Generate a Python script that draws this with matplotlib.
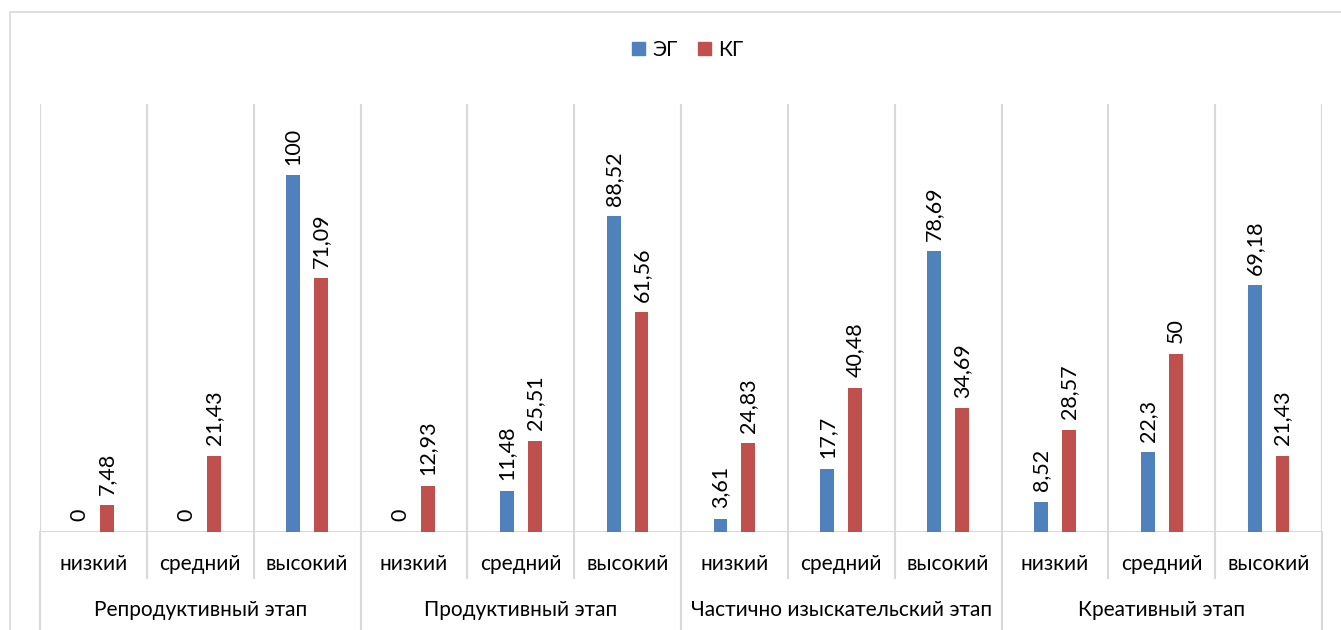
import matplotlib.pyplot as plt
from matplotlib.patches import Rectangle, Patch
import numpy as np

plt.rcParams['font.family'] = ['Lato', 'DejaVu Sans']

# данные
stages = ["Репродуктивный этап", "Продуктивный этап",
          "Частично изыскательский этап", "Креативный этап"]
levels = ["низкий", "средний", "высокий"]
eg = [0, 0, 100, 0, 11.48, 88.52, 3.61, 17.7, 78.69, 8.52, 22.3, 69.18]
kg = [7.48, 21.43, 71.09, 12.93, 25.51, 61.56, 24.83, 40.48, 34.69, 28.57, 50, 21.43]

blue = "#4F81BD"
red = "#C0504D"
grid = "#D9D9D9"


def fmt(v):
    return ("%g" % v).replace(".", ",")


fig = plt.figure(figsize=(13.41, 6.3), dpi=100)
# рамка диаграммы
fig.patches.append(Rectangle((10 / 1341, -0.1), 1.2, 1 - 12 / 630 + 0.1,
                             transform=fig.transFigure, fill=False,
                             edgecolor=grid, linewidth=1.2))

ax = fig.add_axes([40 / 1341, 1 - 532 / 630, 1282 / 1341, 428 / 630])
n = len(eg)
x = np.arange(n) + 0.5
w = 0.13
ax.bar(x - 0.13, eg, w, color=blue, zorder=3)
ax.bar(x + 0.13, kg, w, color=red, zorder=3)

for xi, v in zip(x - 0.13, eg):
    ax.text(xi, v + 3.0, fmt(v), rotation=90, ha="center", va="bottom", fontsize=15.5)
for xi, v in zip(x + 0.13, kg):
    ax.text(xi, v + 3.0, fmt(v), rotation=90, ha="center", va="bottom", fontsize=15.5)

ax.set_xlim(0, n)
ax.set_ylim(0, 120)
for s in ax.spines.values():
    s.set_visible(False)
ax.set_xticks([])
ax.set_yticks([])

trans = ax.get_xaxis_transform()
ax.axhline(0, color=grid, linewidth=1.5, zorder=2)
for b in range(n + 1):
    ax.plot([b, b], [0, 1], color=grid, linewidth=1.5, transform=trans, zorder=1)
    low = -0.23 if b % 3 == 0 else -0.107
    ax.plot([b, b], [0, low], color=grid, linewidth=1.5, transform=trans, clip_on=False)

for i in range(n):
    ax.text(i + 0.5, -0.075, levels[i % 3], transform=trans, ha="center", va="center", fontsize=15)
for j, st in enumerate(stages):
    ax.text(j * 3 + 1.5, -0.182, st, transform=trans, ha="center", va="center", fontsize=15)

handles = [Patch(color=blue, label="ЭГ"), Patch(color=red, label="КГ")]
fig.legend(handles=handles, loc="center", bbox_to_anchor=(688 / 1341, 1 - 50 / 630),
           ncol=2, frameon=False, fontsize=15, handlelength=0.6, handleheight=0.6,
           handletextpad=0.35, columnspacing=1.0)

fig.savefig("out.png", dpi=100)
